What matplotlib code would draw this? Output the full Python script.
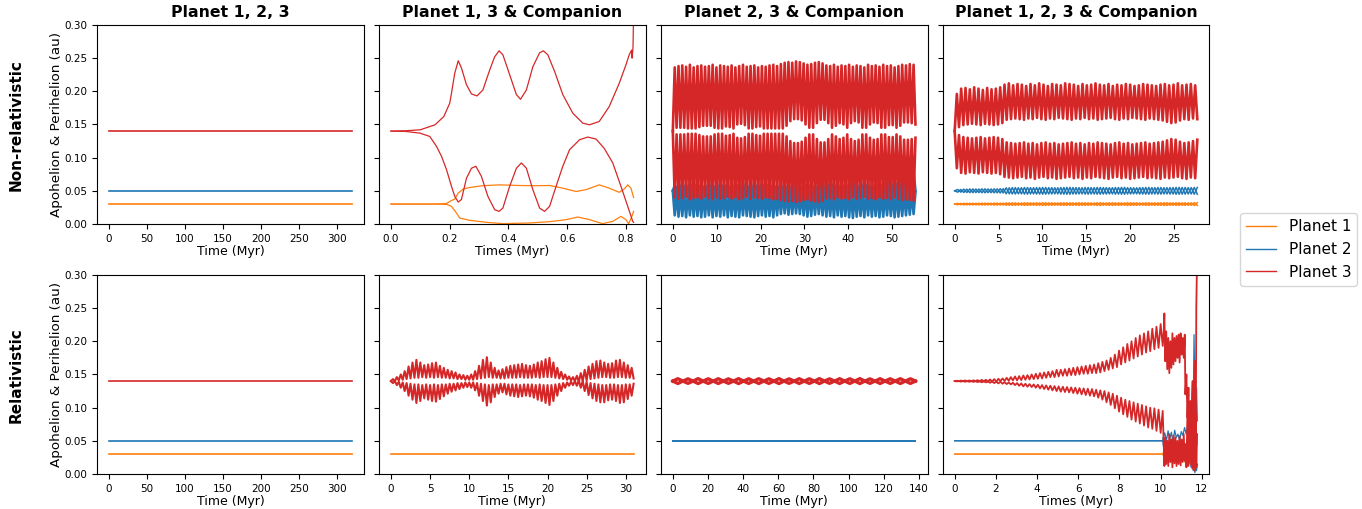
import numpy as np
import matplotlib.pyplot as plt
from matplotlib.lines import Line2D

# colours per planet
C1, C2, C3 = 'tab:orange', 'tab:blue', 'tab:red'

# ---------------- flat runs (Planet 1, 2, 3) ----------------
flat_t = [0, 320]
p1_flat = [0.03, 0.03]
p2_flat = [0.05, 0.05]
p3_flat = [0.14, 0.14]

# ---------------- non-relativistic, Planet 1, 3 & Companion ----------------
nr13_r_apo_t = [0, 0.05, 0.10, 0.15, 0.18, 0.20, 0.206, 0.217, 0.229, 0.24, 0.257, 0.274,
                0.293, 0.313, 0.336, 0.353, 0.368, 0.381, 0.404, 0.427, 0.441, 0.461, 0.483,
                0.506, 0.519, 0.534, 0.557, 0.585, 0.619, 0.653, 0.676, 0.709, 0.743, 0.777,
                0.80, 0.811, 0.819, 0.821, 0.824, 0.826]
nr13_r_apo = [0.140, 0.1405, 0.142, 0.1495, 0.162, 0.182, 0.197, 0.227, 0.246, 0.235, 0.210,
              0.196, 0.193, 0.202, 0.232, 0.252, 0.261, 0.255, 0.225, 0.195, 0.188, 0.202,
              0.237, 0.258, 0.261, 0.255, 0.230, 0.195, 0.167, 0.152, 0.1495, 0.1545, 0.177,
              0.212, 0.240, 0.255, 0.262, 0.250, 0.267, 0.320]
nr13_r_peri_t = [0, 0.05, 0.098, 0.132, 0.155, 0.172, 0.189, 0.206, 0.217, 0.229, 0.24, 0.257,
                 0.274, 0.289, 0.308, 0.33, 0.353, 0.368, 0.381, 0.404, 0.427, 0.444, 0.461,
                 0.483, 0.506, 0.523, 0.54, 0.562, 0.585, 0.608, 0.642, 0.67, 0.698, 0.726,
                 0.755, 0.783, 0.806, 0.823, 0.826]
nr13_r_peri = [0.140, 0.1395, 0.137, 0.132, 0.117, 0.102, 0.082, 0.0567, 0.042, 0.033, 0.037,
               0.069, 0.084, 0.087, 0.0717, 0.0416, 0.0216, 0.019, 0.024, 0.0567, 0.084, 0.092,
               0.084, 0.0517, 0.024, 0.019, 0.0266, 0.0567, 0.087, 0.112, 0.127, 0.131, 0.128,
               0.114, 0.092, 0.0567, 0.0266, 0.004, 0.0025]
nr13_o_apo_t = [0, 0.15, 0.19, 0.20, 0.217, 0.229, 0.246, 0.268, 0.313, 0.37, 0.438, 0.494,
                0.54, 0.585, 0.63, 0.664, 0.709, 0.743, 0.777, 0.794, 0.806, 0.817, 0.826]
nr13_o_apo = [0.030, 0.030, 0.031, 0.034, 0.0376, 0.0467, 0.0527, 0.055, 0.0577, 0.059, 0.058,
              0.0577, 0.058, 0.054, 0.049, 0.0517, 0.059, 0.054, 0.0477, 0.0527, 0.059, 0.054,
              0.040]
nr13_o_peri_t = [0, 0.15, 0.19, 0.206, 0.223, 0.234, 0.268, 0.325, 0.381, 0.472, 0.54, 0.596,
                 0.636, 0.676, 0.72, 0.755, 0.783, 0.80, 0.809, 0.818, 0.826]
nr13_o_peri = [0.030, 0.030, 0.0295, 0.0266, 0.0166, 0.009, 0.0055, 0.0025, 0.0005, 0.0015,
               0.0035, 0.0065, 0.0105, 0.0065, 0.0005, 0.004, 0.0115, 0.0065, 0.0005, 0.009,
               0.019]

# ---------------- non-relativistic, Planet 2, 3 & Companion (0-55.3 Myr) ----------------
nr23_end = 55.3
nr23_r_apo_hi = [.236, .238, .239, .237, .240, .236, .238, .239, .237, .238, .240, .236, .239,
                 .238, .237, .239, .236, .238, .240, .237, .238, .239, .236, .238, .237, .239,
                 .240, .238, .241, .243, .244, .243, .245, .244, .242, .240, .241, .243, .244,
                 .242, .239, .238, .240, .237, .239, .238, .240, .237, .239, .238, .236, .240,
                 .238, .239, .237, .240, .238, .239, .236, .238, .240, .239, .241, .240]
nr23_r_apo_lo = [.145, .145, .145, .144, .144, .144, .146, .148, .148, .148, .145, .144, .144,
                 .147, .146, .144, .150, .151, .149, .144, .144, .146, .147, .144, .144, .144,
                 .144, .144, .144, .148, .155, .158, .158, .156, .150, .145, .145, .152, .157,
                 .157, .152, .145, .148, .152, .150, .145, .152, .155, .153, .145, .145, .150,
                 .153, .152, .145, .145, .149, .149, .145, .148, .153, .153, .152, .150]
nr23_r_peri_hi = [.135, .135, .135, .136, .136, .136, .134, .132, .132, .132, .135, .136, .136,
                  .133, .134, .136, .130, .129, .131, .136, .136, .134, .133, .136, .136, .136,
                  .136, .136, .136, .132, .125, .122, .122, .124, .130, .135, .135, .128, .123,
                  .123, .128, .135, .132, .128, .130, .135, .128, .125, .127, .135, .135, .130,
                  .127, .128, .135, .135, .131, .131, .135, .132, .127, .127, .128, .130]
nr23_r_peri_lo = [.040, .038, .039, .041, .037, .039, .040, .038, .041, .039, .037, .040, .038,
                  .039, .041, .038, .040, .037, .039, .041, .038, .040, .039, .038, .040, .039,
                  .037, .038, .036, .035, .034, .035, .033, .034, .036, .037, .035, .034, .033,
                  .035, .038, .039, .037, .040, .038, .039, .037, .040, .038, .039, .041, .038,
                  .039, .037, .040, .038, .039, .037, .040, .038, .036, .037, .036, .035]
nr23_b_apo_hi = [.058, .061, .064, .059, .062, .066, .060, .063, .058, .065, .061, .059, .064,
                 .060, .062, .058, .065, .060, .063, .061, .059, .064, .060, .062, .066, .060,
                 .063, .058, .061, .059, .060, .057, .060, .058, .062, .064, .060, .059, .061,
                 .063, .060, .065, .062, .059, .064, .060, .063, .066, .060, .062, .065, .061,
                 .059, .064, .067, .062, .069, .065, .063, .068, .071, .067, .074, .080]
nr23_b_peri_lo = [.013, .011, .012, .010, .013, .011, .012, .010, .011, .013, .010, .012, .011,
                  .013, .010, .012, .011, .010, .013, .012, .011, .010, .012, .013, .011, .012,
                  .010, .013, .015, .016, .014, .015, .016, .015, .013, .011, .012, .014, .015,
                  .013, .011, .012, .010, .013, .011, .012, .010, .009, .011, .012, .010, .013,
                  .011, .012, .010, .011, .013, .012, .010, .011, .012, .013, .014, .015]
nr23_b_apo_lo = 0.050
nr23_b_peri_hi = 0.048

# ---------------- non-relativistic, Planet 1, 2, 3 & Companion (0-27.65 Myr) ----------------
nr123_end = 27.65
nr123_r_apo_hi = [.196, .204, .205, .203, .206, .204, .202, .205, .203, .204, .206,
                  .210, .212, .209, .211, .210, .208, .211, .209, .212, .210, .208, .211, .210,
                  .209, .212, .211, .210, .208, .211, .209, .210, .212, .210, .209, .211, .208,
                  .210, .209, .211, .210, .208, .209, .211, .210, .209, .208, .210, .211, .209,
                  .210, .212, .209, .210, .211, .209]
nr123_r_apo_lo = [.146, .149, .150, .151, .150, .149, .151, .150, .149, .150, .152,
                  .157, .158, .159, .158, .157, .159, .158, .160, .158, .157, .159, .158, .160,
                  .159, .158, .157, .159, .158, .160, .158, .159, .157, .158, .159, .160, .158,
                  .157, .159, .158, .160, .159, .158, .157, .159, .158, .157, .156, .154, .152,
                  .153, .156, .158, .157, .159, .158]
nr123_r_peri_hi = [.134, .131, .130, .129, .130, .131, .129, .130, .131, .130, .128,
                   .123, .122, .121, .122, .123, .121, .122, .120, .122, .123, .121, .122, .120,
                   .121, .122, .123, .121, .122, .120, .122, .121, .123, .122, .121, .120, .122,
                   .123, .121, .122, .120, .121, .122, .123, .121, .122, .123, .124, .126, .128,
                   .127, .124, .122, .123, .125, .127]
nr123_r_peri_lo = [.084, .077, .076, .078, .077, .076, .078, .077, .076, .077, .075,
                   .071, .070, .069, .070, .071, .069, .070, .068, .070, .071, .069, .070, .068,
                   .069, .070, .071, .069, .070, .068, .070, .069, .071, .070, .069, .068, .070,
                   .071, .069, .070, .068, .069, .070, .071, .069, .070, .069, .068, .070, .069,
                   .070, .071, .069, .068, .070, .069]
nr123_b_hi = [.0520, .0525, .0528, .0527, .0530, .0528, .0530, .0532,
              .0545, .0548, .0546, .0550, .0547, .0549, .0551, .0548, .0546, .0550, .0552,
              .0549, .0547, .0550, .0548, .0551, .0549, .0547, .0550, .0552, .0548, .0546,
              .0549, .0551, .0548, .0550, .0547, .0549, .0552, .0550, .0548, .0551]
nr123_b_lo = [.0480, .0475, .0472, .0473, .0470, .0472, .0470, .0468,
              .0455, .0452, .0454, .0450, .0453, .0451, .0449, .0452, .0454, .0450, .0448,
              .0451, .0453, .0450, .0452, .0449, .0451, .0453, .0450, .0448, .0452, .0454,
              .0451, .0449, .0452, .0450, .0453, .0451, .0448, .0450, .0452, .0449]
nr123_o_hi = [.0310, .0312, .0313, .0312, .0314, .0313, .0315, .0314,
              .0318, .0319, .0317, .0320, .0318, .0319, .0321, .0318, .0317, .0320, .0319,
              .0318, .0320, .0319, .0317, .0321, .0318, .0320, .0319, .0318, .0321, .0319,
              .0317, .0320, .0318, .0319, .0321, .0318, .0320, .0319, .0318, .0321]
nr123_o_lo = [.0290, .0288, .0287, .0288, .0286, .0287, .0285, .0286,
              .0282, .0281, .0283, .0280, .0282, .0281, .0279, .0282, .0283, .0280, .0281,
              .0282, .0280, .0281, .0283, .0279, .0282, .0280, .0281, .0282, .0279, .0281,
              .0283, .0280, .0282, .0281, .0279, .0282, .0280, .0281, .0282, .0279]

# ---------------- relativistic, Planet 1, 3 & Companion (0-31 Myr) ----------------
r13_end = 31.0
r13_r_apo_hi = [.143, .146, .150, .155, .162, .168, .172, .168, .164, .165, .167, .168, .163,
                .160, .157, .155, .153, .150, .149, .148, .150, .155, .163, .172, .176, .168,
                .160, .156, .158, .161, .163, .164, .165, .166, .164, .163, .165, .168, .170,
                .173, .175, .168, .160, .154, .150, .147, .146, .148, .152, .157, .162, .166,
                .170, .171, .168, .166, .167, .171, .172, .168, .164, .160]
r13_r_apo_lo = [.140, .141, .142, .143, .144, .145, .145, .146, .145, .146, .145, .146, .145,
                .145, .144, .144, .143, .143, .142, .142, .142, .143, .144, .145, .146, .145,
                .145, .144, .144, .145, .145, .145, .146, .145, .145, .145, .146, .145, .146,
                .146, .146, .145, .144, .143, .142, .141, .140, .139, .140, .141, .143, .144,
                .145, .146, .146, .145, .145, .146, .146, .145, .145, .144]
r13_r_peri_hi = [.140, .139, .138, .137, .136, .135, .135, .134, .135, .134, .135, .134, .135,
                 .135, .136, .136, .137, .137, .138, .138, .138, .137, .136, .135, .134, .135,
                 .135, .136, .136, .135, .135, .135, .134, .135, .135, .135, .134, .135, .134,
                 .134, .134, .135, .136, .137, .138, .139, .140, .141, .140, .139, .137, .136,
                 .135, .134, .134, .135, .135, .134, .134, .135, .135, .136]
r13_r_peri_lo = [.137, .134, .130, .125, .118, .112, .107, .110, .114, .112, .110, .109, .113,
                 .117, .121, .124, .126, .128, .130, .131, .130, .126, .118, .110, .103, .108,
                 .116, .121, .123, .120, .118, .117, .116, .117, .118, .117, .115, .112, .110,
                 .107, .104, .110, .118, .125, .130, .133, .134, .133, .130, .125, .119, .114,
                 .110, .108, .108, .111, .112, .110, .107, .108, .113, .118]

# ---------------- relativistic, Planet 2, 3 & Companion (0-138 Myr) ----------------
r23_end = 138.0
r23_r_hi = [.1436, .1434, .1437, .1435, .1436, .1434, .1437, .1435, .1436, .1435, .1437, .1434,
            .1436, .1435, .1437, .1434, .1436, .1435, .1437, .1434, .1436, .1435, .1436, .1435]
r23_r_lo = [.1364, .1366, .1363, .1365, .1364, .1366, .1363, .1365, .1364, .1365, .1363, .1366,
            .1364, .1365, .1363, .1366, .1364, .1365, .1363, .1366, .1364, .1365, .1364, .1365]
r23_r_mid = 0.140
r23_t_flat = [0, 138]
r23_b_flat = [0.05, 0.05]

# ---------------- relativistic, Planet 1, 2, 3 & Companion (0-11.8 Myr) ----------------
r123_calm_end = 10.1
r123_r_apo_hi = [.1405, .1408, .141, .141, .1412, .1415, .1418, .142, .1425, .143,
                 .1435, .144, .145, .146, .147, .1475, .1485, .149, .150, .151,
                 .152, .153, .154, .155, .157, .157, .158, .159, .160, .161,
                 .162, .163, .164, .165, .167, .169, .171, .175, .180, .186,
                 .191, .196, .200, .205, .209, .212, .215, .219, .222, .226]
r123_r_apo_lo = [.1400, .1400, .1398, .1398, .1398, .1395, .1395, .1392, .1392, .1390,
                 .140, .1402, .1405, .141, .141, .1415, .142, .1425, .143, .1435,
                 .144, .145, .146, .146, .147, .148, .148, .149, .149, .150,
                 .151, .151, .152, .152, .153, .155, .157, .159, .161, .165,
                 .168, .171, .174, .177, .180, .183, .185, .188, .190, .193]
r123_r_peri_hi = [.1400, .1400, .1400, .1399, .1398, .1398, .1396, .1395, .1394, .1392,
                  .139, .1385, .138, .1375, .137, .1365, .136, .1355, .135, .1345,
                  .134, .1335, .133, .1325, .132, .1315, .131, .1305, .130, .1295,
                  .129, .1285, .128, .127, .126, .125, .123, .121, .118, .115,
                  .112, .110, .108, .106, .104, .102, .100, .099, .097, .095]
r123_r_peri_lo = [.1395, .1392, .1390, .1390, .1388, .1385, .1382, .138, .1375, .137,
                  .1365, .136, .1355, .135, .134, .133, .132, .1315, .131, .130,
                  .129, .128, .127, .126, .125, .124, .1235, .123, .122, .121,
                  .120, .119, .118, .117, .115, .112, .108, .104, .099, .094,
                  .090, .086, .082, .079, .076, .073, .070, .068, .065, .062]
# unstable end of the run
r123_r_t2 = [10.15, 10.18, 10.22, 10.27, 10.32, 10.37, 10.42, 10.47, 10.52, 10.57, 10.62, 10.67,
             10.72, 10.77, 10.82, 10.87, 10.92, 10.97, 11.02, 11.07, 11.12, 11.17, 11.20, 11.25,
             11.30, 11.35, 11.40, 11.45, 11.50, 11.55, 11.60, 11.65, 11.70, 11.73, 11.77]
r123_r_apo2 = [0.215, 0.242, 0.170, 0.215, 0.158, 0.205, 0.152, 0.200, 0.160, 0.212, 0.165,
               0.205, 0.170, 0.208, 0.175, 0.210, 0.168, 0.212, 0.180, 0.205, 0.175, 0.210,
               0.120, 0.150, 0.085, 0.130, 0.060, 0.110, 0.040, 0.140, 0.020, 0.170, 0.010,
               0.250, 0.330]
r123_r_peri2 = [0.045, 0.012, 0.055, 0.015, 0.050, 0.012, 0.060, 0.018, 0.052, 0.010, 0.058,
                0.016, 0.055, 0.012, 0.050, 0.015, 0.057, 0.013, 0.052, 0.018, 0.060, 0.020,
                0.045, 0.010, 0.090, 0.012, 0.100, 0.015, 0.080, 0.008, 0.110, 0.005, 0.090,
                0.010, 0.060]
r123_bo_t2 = [0, 10.1, 10.12, 10.2, 10.28, 10.36, 10.44, 10.52, 10.6, 10.68, 10.76, 10.84,
              10.92, 11.0, 11.08, 11.16, 11.24, 11.32, 11.4, 11.48, 11.54, 11.58, 11.62,
              11.66, 11.7, 11.74, 11.78]
r123_b_apo = [0.05, 0.05, 0.055, 0.062, 0.050, 0.065, 0.052, 0.063, 0.048, 0.066, 0.055, 0.060,
              0.050, 0.064, 0.058, 0.070, 0.060, 0.075, 0.055, 0.090, 0.140, 0.080, 0.210,
              0.120, 0.060, 0.130, 0.080]
r123_b_peri = [0.05, 0.05, 0.045, 0.030, 0.042, 0.025, 0.040, 0.028, 0.044, 0.022, 0.038,
               0.030, 0.042, 0.025, 0.035, 0.020, 0.030, 0.015, 0.025, 0.010, 0.020, 0.005,
               0.015, 0.002, 0.010, 0.005, 0.015]
r123_o_apo = [0.03, 0.03, 0.032, 0.036, 0.031, 0.038, 0.033, 0.037, 0.030, 0.040, 0.034, 0.038,
              0.032, 0.041, 0.035, 0.045, 0.036, 0.050, 0.040, 0.060, 0.045, 0.077, 0.050,
              0.065, 0.040, 0.055, 0.045]
r123_o_peri = [0.03, 0.03, 0.028, 0.024, 0.029, 0.022, 0.027, 0.023, 0.029, 0.020, 0.026,
               0.022, 0.028, 0.019, 0.025, 0.018, 0.022, 0.015, 0.020, 0.012, 0.018, 0.010,
               0.015, 0.008, 0.012, 0.010, 0.014]

titles = ['Planet 1, 2, 3', 'Planet 1, 3 & Companion',
          'Planet 2, 3 & Companion', 'Planet 1, 2, 3 & Companion']
xlabels = [['Time (Myr)', 'Times (Myr)', 'Time (Myr)', 'Time (Myr)'],
           ['Time (Myr)', 'Time (Myr)', 'Time (Myr)', 'Times (Myr)']]
row_names = ['Non-relativistic', 'Relativistic']
legend_labels = ['Planet 1', 'Planet 2', 'Planet 3']


def zigzag(start, first, second, t_end, t_start=0.0):
    """Interleave listed turning points: start, first[0], second[0], first[1], ..."""
    if np.isscalar(second):
        second = [second] * len(first)
    vals = [start]
    for a, b in zip(first, second):
        vals += [a, b]
    t = np.linspace(t_start, t_end, len(vals))
    return t, np.array(vals)


LW = 0.9      # smooth curves
LWD = 1.9     # dense oscillations
plt.rcParams['font.family'] = 'DejaVu Sans'
fig, axes = plt.subplots(2, 4, figsize=(13.62, 5.09), sharey=True)
fig.subplots_adjust(left=0.0712, right=0.888, top=0.951, bottom=0.0688,
                    wspace=0.056, hspace=0.256)

# --- column 1: all planets, no companion ---
for ax in axes[:, 0]:
    ax.plot(flat_t, p1_flat, color=C1, lw=1.2)
    ax.plot(flat_t, p2_flat, color=C2, lw=1.2)
    ax.plot(flat_t, p3_flat, color=C3, lw=1.2)

# --- top row ---
ax = axes[0, 1]
ax.plot(nr13_o_apo_t, nr13_o_apo, color=C1, lw=LW)
ax.plot(nr13_o_peri_t, nr13_o_peri, color=C1, lw=LW)
ax.plot(nr13_r_apo_t, nr13_r_apo, color=C3, lw=LW)
ax.plot(nr13_r_peri_t, nr13_r_peri, color=C3, lw=LW)

ax = axes[0, 2]
ax.plot(*zigzag(0.05, nr23_b_apo_hi, nr23_b_apo_lo, nr23_end), color=C2, lw=LWD)
ax.plot(*zigzag(0.05, nr23_b_peri_lo, nr23_b_peri_hi, nr23_end), color=C2, lw=LWD)
ax.plot(*zigzag(0.14, nr23_r_apo_hi, nr23_r_apo_lo, nr23_end), color=C3, lw=LWD)
ax.plot(*zigzag(0.14, nr23_r_peri_lo, nr23_r_peri_hi, nr23_end), color=C3, lw=LWD)

ax = axes[0, 3]
ax.plot(*zigzag(0.03, nr123_o_hi, nr123_o_lo, nr123_end), color=C1, lw=1.1)
ax.plot(*zigzag(0.03, nr123_o_lo, nr123_o_hi, nr123_end), color=C1, lw=1.1)
ax.plot(*zigzag(0.05, nr123_b_hi, nr123_b_lo, nr123_end), color=C2, lw=1.1)
ax.plot(*zigzag(0.05, nr123_b_lo, nr123_b_hi, nr123_end), color=C2, lw=1.1)
ax.plot(*zigzag(0.14, nr123_r_apo_hi, nr123_r_apo_lo, nr123_end), color=C3, lw=LWD)
ax.plot(*zigzag(0.14, nr123_r_peri_lo, nr123_r_peri_hi, nr123_end), color=C3, lw=LWD)

# --- bottom row ---
ax = axes[1, 1]
ax.plot([0, r13_end], p1_flat, color=C1, lw=1.2)
ax.plot(*zigzag(0.14, r13_r_apo_hi, r13_r_apo_lo, r13_end), color=C3, lw=1.5)
ax.plot(*zigzag(0.14, r13_r_peri_lo, r13_r_peri_hi, r13_end), color=C3, lw=1.5)

ax = axes[1, 2]
ax.plot(r23_t_flat, r23_b_flat, color=C2, lw=1.4)
ax.plot(*zigzag(0.14, r23_r_hi, r23_r_mid, r23_end), color=C3, lw=2.4)
ax.plot(*zigzag(0.14, r23_r_lo, r23_r_mid, r23_end), color=C3, lw=2.4)

ax = axes[1, 3]
ax.plot(r123_bo_t2, r123_o_apo, color=C1, lw=LW)
ax.plot(r123_bo_t2, r123_o_peri, color=C1, lw=LW)
ax.plot(r123_bo_t2, r123_b_apo, color=C2, lw=LW)
ax.plot(r123_bo_t2, r123_b_peri, color=C2, lw=LW)
t_a, v_a = zigzag(0.14, r123_r_apo_hi, r123_r_apo_lo, r123_calm_end)
t_p, v_p = zigzag(0.14, r123_r_peri_lo, r123_r_peri_hi, r123_calm_end)
ax.plot(np.concatenate([t_a, r123_r_t2]), np.concatenate([v_a, r123_r_apo2]), color=C3, lw=1.3)
ax.plot(np.concatenate([t_p, r123_r_t2]), np.concatenate([v_p, r123_r_peri2]), color=C3, lw=1.3)

# --- cosmetics ---
for i in range(2):
    for j in range(4):
        ax = axes[i, j]
        ax.set_ylim(0, 0.30)
        ax.set_yticks(np.arange(0, 0.31, 0.05))
        ax.tick_params(labelsize=7.5)
        ax.set_xlabel(xlabels[i][j], fontsize=9, labelpad=1)
    axes[i, 0].set_ylabel('Apohelion & Perihelion (au)', fontsize=9.7, labelpad=1)
for j in range(4):
    axes[0, j].set_title(titles[j], fontsize=11.3, fontweight='bold')

fig.text(16 / 1362, 1 - 125 / 509, row_names[0], rotation=90, fontsize=11,
         fontweight='bold', ha='center', va='center')
fig.text(16 / 1362, 1 - 375 / 509, row_names[1], rotation=90, fontsize=11,
         fontweight='bold', ha='center', va='center')

handles = [Line2D([], [], color=c, lw=1.0) for c in (C1, C2, C3)]
fig.legend(handles, legend_labels, loc='center left', bbox_to_anchor=(1232 / 1362, 0.51),
           fontsize=11)

fig.savefig('out.png', dpi=100)
